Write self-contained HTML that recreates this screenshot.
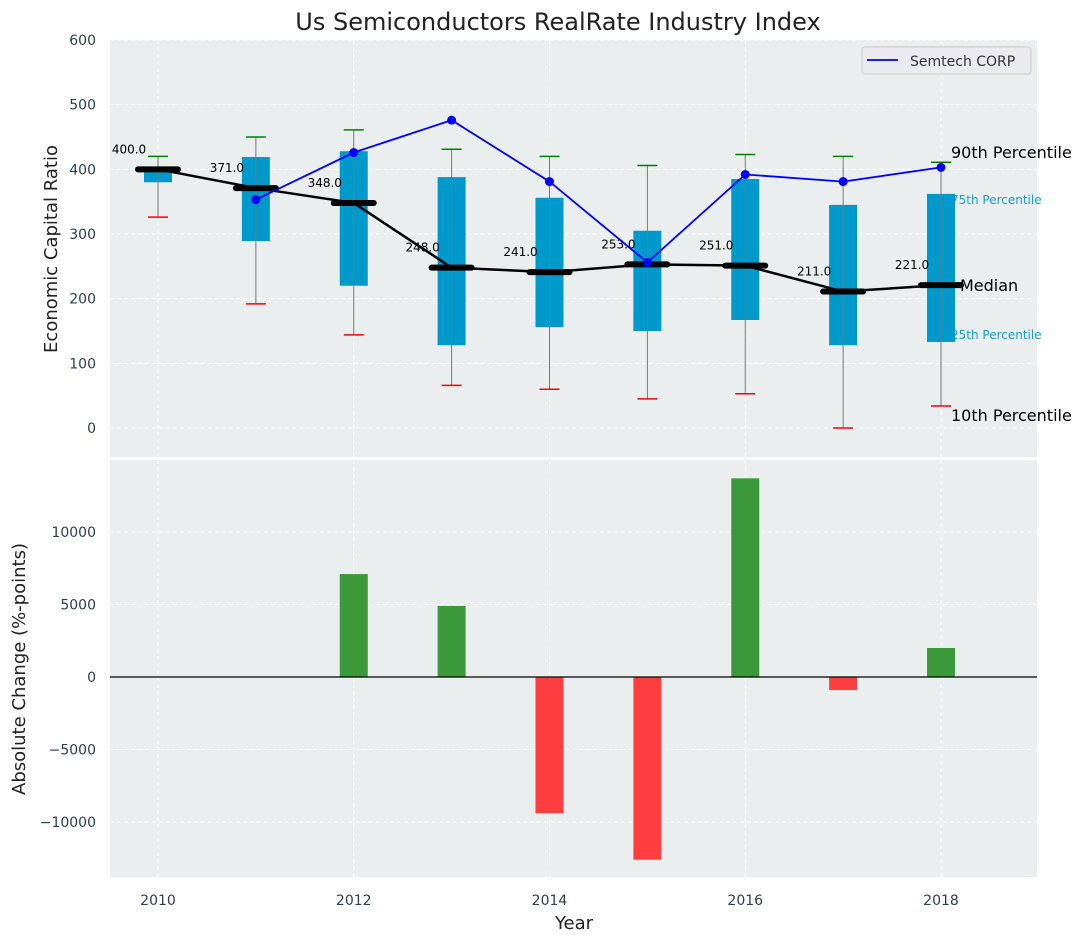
<!DOCTYPE html>
<html><head><meta charset="utf-8"><style>
body{margin:0;background:#fff;font-family:"DejaVu Sans","Liberation Sans",sans-serif}
svg text{font-family:"DejaVu Sans","Liberation Sans",sans-serif}
</style></head><body>
<svg id="c" width="1086" height="942" xmlns="http://www.w3.org/2000/svg"></svg>
<script>
const years=[2010,2011,2012,2013,2014,2015,2016,2017,2018];
const p10=[326,192,144,66,60,45,53,0,34];
const p25=[380,289,220,128,156,150,167,128,133];
const median=[400,371,348,248,241,253,251,211,221];
const p75=[400,419,428,388,356,305,385,345,362];
const p90=[420,450,461,431,420,406,423,420,411];
const semtech=[null,353,426,476,381,256,392,381,403];
const changes=[0,0,7100,4900,-9400,-12600,13700,-900,2000];
const topTicks=[0,100,200,300,400,500,600];
const botTicks=[-10000,-5000,0,5000,10000];

const NS="http://www.w3.org/2000/svg";
const svg=document.getElementById('c');
function el(t,a,p){const e=document.createElementNS(NS,t);for(const k in a)e.setAttribute(k,a[k]);(p||svg).appendChild(e);return e;}
const L=110,R=1037;
const X=i=>158+i*97.875;
const Y1=v=>428-v*0.6467;
const Y2=v=>677-v*0.0145;
let bg1=el('rect',{x:L,y:40,width:R-L,height:417,fill:'#eaeeee'});


let bg2=el('rect',{x:L,y:460,width:R-L,height:417,fill:'#eaeeee'});


years.forEach((y,i)=>{
 if(y%2===0){
 el('line',{x1:X(i),x2:X(i),y1:40,y2:457,stroke:'#fff','stroke-dasharray':'4,3'});
 el('line',{x1:X(i),x2:X(i),y1:460,y2:877,stroke:'#fff','stroke-dasharray':'4,3'});
 const t=el('text',{x:X(i),y:905,'text-anchor':'middle','font-size':14,fill:'#2d3e50'});t.textContent=y;
 
 
 }
});
topTicks.forEach(v=>{
 el('line',{x1:L,x2:R,y1:Y1(v),y2:Y1(v),stroke:'#fff','stroke-dasharray':'4,3'});
 const t=el('text',{x:96,y:Y1(v)+5,'text-anchor':'end','font-size':14,fill:'#2d3e50'});t.textContent=v;
 
 
});
botTicks.forEach(v=>{
 el('line',{x1:L,x2:R,y1:Y2(v),y2:Y2(v),stroke:'#fff','stroke-dasharray':'4,3'});
 const t=el('text',{x:96,y:Y2(v)+5,'text-anchor':'end','font-size':14,fill:'#2d3e50'});t.textContent=(v<0?'\u2212'+(-v):v);
 
 
});
const lastX=X(8);
[['90th Percentile',16,'#000',lastX+10,158],['75th Percentile',12,'#1a9dcc',lastX+10,204],['25th Percentile',12,'#1a9dcc',lastX+10,339],['10th Percentile',16,'#000',lastX+10,421]].forEach(([s,fs,c,x,y])=>{
 const t=el('text',{x:x,y:y,'font-size':fs,fill:c});t.textContent=s;
 
 
});
years.forEach((y,i)=>{
 const x=X(i);
 const b=el('rect',{x:x-14,y:Y1(p75[i]),width:28,height:Y1(p25[i])-Y1(p75[i]),fill:'#0099cc'});
 
 
 el('line',{x1:x,x2:x,y1:Y1(p90[i]),y2:Y1(p10[i]),stroke:'#777','stroke-width':1});
 el('line',{x1:x-10,x2:x+10,y1:Y1(p90[i]),y2:Y1(p90[i]),stroke:'green','stroke-width':1.5});
 el('line',{x1:x-10,x2:x+10,y1:Y1(p10[i]),y2:Y1(p10[i]),stroke:'red','stroke-width':1.5});
});
el('polyline',{points:median.map((v,i)=>X(i)+','+Y1(v)).join(' '),fill:'none',stroke:'#000','stroke-width':2.5});
years.forEach((y,i)=>{
 const m=el('line',{x1:X(i)-20,x2:X(i)+20,y1:Y1(median[i]),y2:Y1(median[i]),stroke:'#000','stroke-width':6,'stroke-linecap':'round'});
 
 
 const t=el('text',{x:X(i)-29,y:Y1(median[i])-16,'text-anchor':'middle','font-size':12,fill:'#000'});t.textContent=median[i].toFixed(1);
 
 
});
const ml=el('text',{x:X(8)+19,y:Y1(median[8])+6,'font-size':16,fill:'#000'});ml.textContent='Median';


const pts=semtech.map((v,i)=>v==null?null:[X(i),Y1(v)]).filter(p=>p);
const sl=el('polyline',{points:pts.map(p=>p.join(',')).join(' '),fill:'none',stroke:'blue','stroke-width':1.8});


pts.forEach(p=>{const c=el('circle',{cx:p[0],cy:p[1],r:4.5,fill:'blue'});
 
 });
const lg=el('g',{});


el('rect',{x:862,y:47,width:169,height:27,rx:3,fill:'#eaeaf0',stroke:'#ccc'},lg);
el('line',{x1:867,x2:898,y1:60,y2:60,stroke:'blue','stroke-width':1.8},lg);
const lt=el('text',{x:910,y:66,'font-size':14,fill:'#333'},lg);lt.textContent='Semtech CORP';
changes.forEach((v,i)=>{
 if(v===0)return;
 const r=el('rect',{x:X(i)-14,y:Math.min(Y2(v),Y2(0)),width:28,height:Math.abs(Y2(v)-Y2(0)),fill:v>0?'#3a9a3a':'#ff3f3f'});
 
 
});
el('line',{x1:L,x2:R,y1:Y2(0),y2:Y2(0),stroke:'#000','stroke-width':1.2});
const tt=el('text',{x:558,y:30,'text-anchor':'middle','font-size':24,fill:'#222'});tt.textContent='Us Semiconductors RealRate Industry Index';


const yt=el('text',{x:0,y:0,'text-anchor':'middle','font-size':18,fill:'#222',transform:'translate(57,249) rotate(-90)'});yt.textContent='Economic Capital Ratio';


const yb=el('text',{x:0,y:0,'text-anchor':'middle','font-size':18,fill:'#222',transform:'translate(25,669) rotate(-90)'});yb.textContent='Absolute Change (%-points)';


const xt=el('text',{x:574,y:929,'text-anchor':'middle','font-size':18,fill:'#222'});xt.textContent='Year';


</script>
</body></html>
